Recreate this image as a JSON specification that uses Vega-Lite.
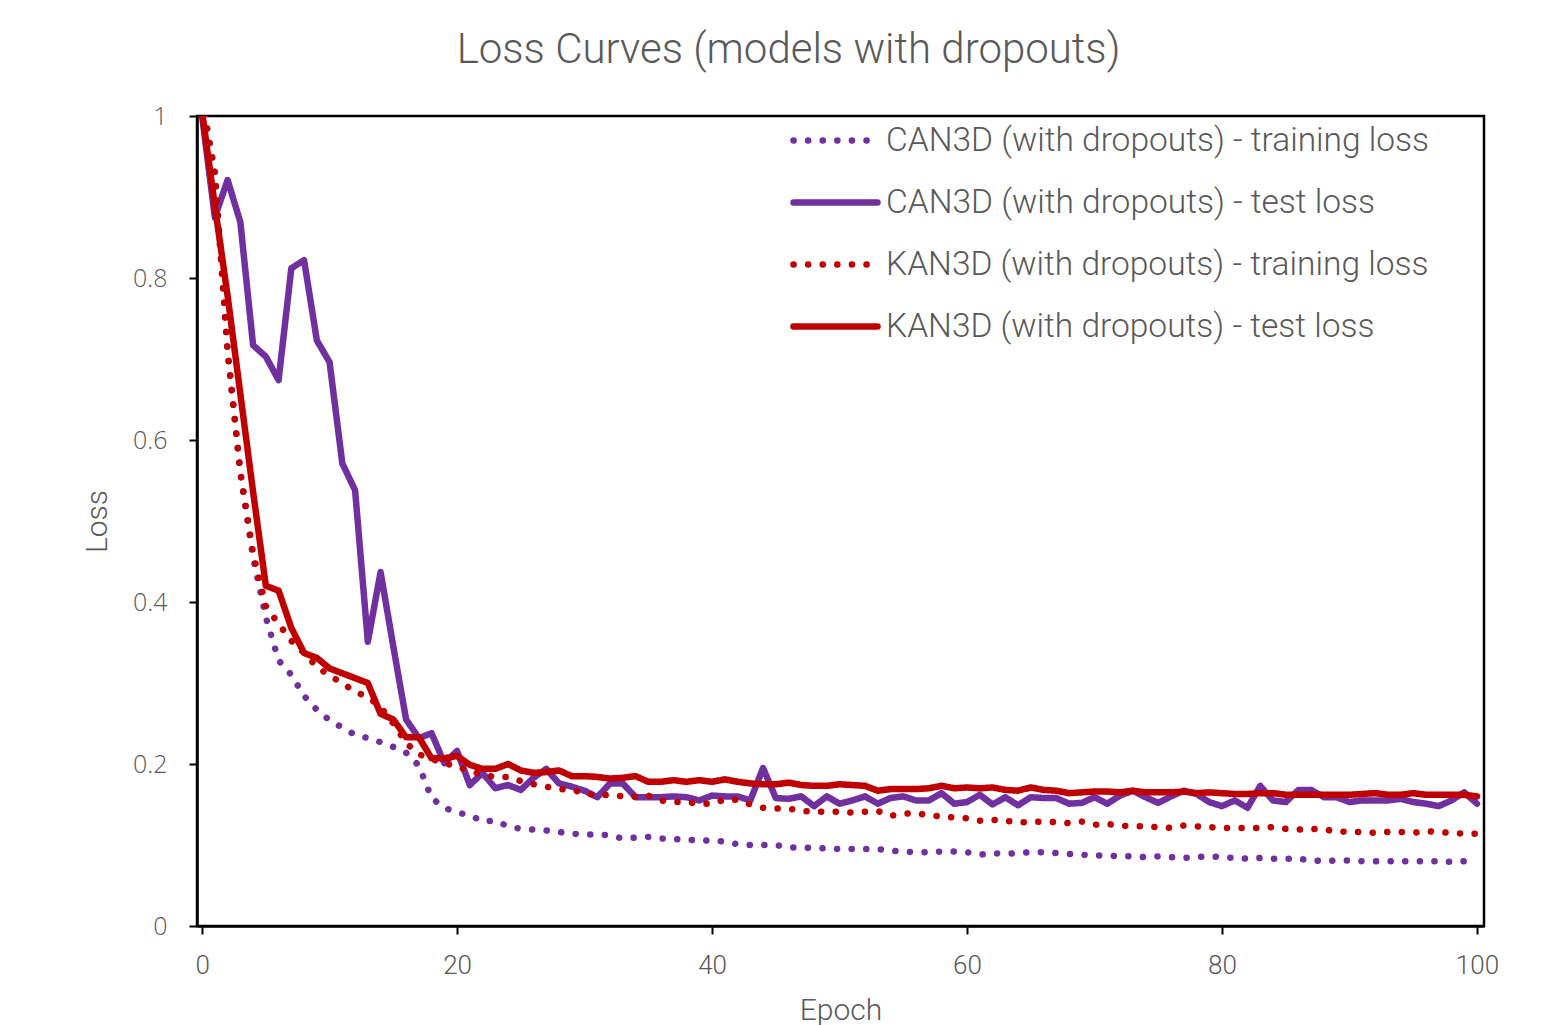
{
 "$schema": "https://vega.github.io/schema/vega-lite/v6.json",
 "width": 1287, "height": 810,
 "autosize": {"type": "none"},
 "padding": {"left": 197, "top": 116, "right": 71, "bottom": 99},
 "background": "white",
 "title": {"text": "Loss Curves (models with dropouts)", "frame": "group", "font": "Roboto", "fontSize": 42, "fontWeight": 300, "color": "#595959", "anchor": "middle", "dx": -52, "offset": 23},
 "config": {
  "view": {"stroke": "black", "strokeWidth": 2.5},
  "axis": {"grid": false, "domainColor": "black", "domainWidth": 2.5, "tickColor": "black", "tickWidth": 2, "tickSize": 8, "labelColor": "#595959", "titleColor": "#595959", "titleFontWeight": 300},
  "legend": {"padding": 0}
 },
 "data": {"values": [
  {"e":0,"a":1.02,"b":1.0,"c":1.02,"d":1.005},
  {"e":1,"a":0.93,"b":0.875,"c":0.93,"d":0.889},
  {"e":2,"a":0.71,"b":0.921,"c":0.71,"d":0.778},
  {"e":3,"a":0.56,"b":0.869,"c":0.56,"d":0.657},
  {"e":4,"a":0.455,"b":0.717,"c":0.46,"d":0.536},
  {"e":5,"a":0.381,"b":0.703,"c":0.395,"d":0.42},
  {"e":6,"a":0.328,"b":0.674,"c":0.373,"d":0.414},
  {"e":7,"a":0.31,"b":0.812,"c":0.352,"d":0.368},
  {"e":8,"a":0.284,"b":0.822,"c":0.337,"d":0.337},
  {"e":9,"a":0.267,"b":0.723,"c":0.32,"d":0.331},
  {"e":10,"a":0.254,"b":0.696,"c":0.309,"d":0.318},
  {"e":11,"a":0.245,"b":0.571,"c":0.3,"d":0.312},
  {"e":12,"a":0.236,"b":0.538,"c":0.289,"d":0.306},
  {"e":13,"a":0.232,"b":0.351,"c":0.283,"d":0.3},
  {"e":14,"a":0.227,"b":0.437,"c":0.27,"d":0.262},
  {"e":15,"a":0.221,"b":0.345,"c":0.25,"d":0.255},
  {"e":16,"a":0.214,"b":0.255,"c":0.226,"d":0.233},
  {"e":17,"a":0.198,"b":0.232,"c":0.212,"d":0.233},
  {"e":18,"a":0.158,"b":0.238,"c":0.206,"d":0.207},
  {"e":19,"a":0.146,"b":0.201,"c":0.201,"d":0.207},
  {"e":20,"a":0.14,"b":0.216,"c":0.197,"d":0.21},
  {"e":21,"a":0.137,"b":0.174,"c":0.191,"d":0.199},
  {"e":22,"a":0.129,"b":0.189,"c":0.187,"d":0.194},
  {"e":23,"a":0.13,"b":0.17,"c":0.184,"d":0.194},
  {"e":24,"a":0.123,"b":0.174,"c":0.184,"d":0.2},
  {"e":25,"a":0.12,"b":0.168,"c":0.179,"d":0.192},
  {"e":26,"a":0.119,"b":0.183,"c":0.175,"d":0.189},
  {"e":27,"a":0.118,"b":0.194,"c":0.172,"d":0.19},
  {"e":28,"a":0.116,"b":0.176,"c":0.169,"d":0.192},
  {"e":29,"a":0.114,"b":0.172,"c":0.168,"d":0.185},
  {"e":30,"a":0.113,"b":0.167,"c":0.164,"d":0.185},
  {"e":31,"a":0.113,"b":0.159,"c":0.161,"d":0.184},
  {"e":32,"a":0.112,"b":0.176,"c":0.162,"d":0.182},
  {"e":33,"a":0.108,"b":0.176,"c":0.16,"d":0.183},
  {"e":34,"a":0.109,"b":0.159,"c":0.16,"d":0.185},
  {"e":35,"a":0.11,"b":0.159,"c":0.161,"d":0.178},
  {"e":36,"a":0.108,"b":0.159,"c":0.155,"d":0.178},
  {"e":37,"a":0.107,"b":0.16,"c":0.153,"d":0.18},
  {"e":38,"a":0.107,"b":0.159,"c":0.153,"d":0.178},
  {"e":39,"a":0.105,"b":0.155,"c":0.151,"d":0.18},
  {"e":40,"a":0.106,"b":0.161,"c":0.151,"d":0.178},
  {"e":41,"a":0.104,"b":0.16,"c":0.156,"d":0.181},
  {"e":42,"a":0.101,"b":0.16,"c":0.156,"d":0.178},
  {"e":43,"a":0.1,"b":0.155,"c":0.15,"d":0.176},
  {"e":44,"a":0.1,"b":0.195,"c":0.146,"d":0.175},
  {"e":45,"a":0.1,"b":0.158,"c":0.145,"d":0.175},
  {"e":46,"a":0.097,"b":0.157,"c":0.145,"d":0.177},
  {"e":47,"a":0.097,"b":0.16,"c":0.142,"d":0.174},
  {"e":48,"a":0.096,"b":0.148,"c":0.141,"d":0.173},
  {"e":49,"a":0.096,"b":0.16,"c":0.141,"d":0.173},
  {"e":50,"a":0.095,"b":0.151,"c":0.141,"d":0.175},
  {"e":51,"a":0.095,"b":0.155,"c":0.14,"d":0.174},
  {"e":52,"a":0.095,"b":0.16,"c":0.141,"d":0.173},
  {"e":53,"a":0.095,"b":0.151,"c":0.142,"d":0.167},
  {"e":54,"a":0.093,"b":0.158,"c":0.136,"d":0.169},
  {"e":55,"a":0.092,"b":0.16,"c":0.139,"d":0.169},
  {"e":56,"a":0.091,"b":0.155,"c":0.139,"d":0.169},
  {"e":57,"a":0.091,"b":0.155,"c":0.137,"d":0.17},
  {"e":58,"a":0.092,"b":0.164,"c":0.135,"d":0.173},
  {"e":59,"a":0.092,"b":0.151,"c":0.134,"d":0.17},
  {"e":60,"a":0.091,"b":0.153,"c":0.133,"d":0.171},
  {"e":61,"a":0.088,"b":0.162,"c":0.13,"d":0.17},
  {"e":62,"a":0.09,"b":0.15,"c":0.131,"d":0.171},
  {"e":63,"a":0.089,"b":0.159,"c":0.13,"d":0.168},
  {"e":64,"a":0.09,"b":0.149,"c":0.128,"d":0.167},
  {"e":65,"a":0.091,"b":0.159,"c":0.128,"d":0.171},
  {"e":66,"a":0.091,"b":0.158,"c":0.129,"d":0.168},
  {"e":67,"a":0.09,"b":0.158,"c":0.128,"d":0.167},
  {"e":68,"a":0.089,"b":0.151,"c":0.127,"d":0.164},
  {"e":69,"a":0.088,"b":0.152,"c":0.129,"d":0.165},
  {"e":70,"a":0.087,"b":0.159,"c":0.125,"d":0.166},
  {"e":71,"a":0.087,"b":0.151,"c":0.126,"d":0.166},
  {"e":72,"a":0.086,"b":0.161,"c":0.124,"d":0.165},
  {"e":73,"a":0.086,"b":0.167,"c":0.123,"d":0.167},
  {"e":74,"a":0.085,"b":0.159,"c":0.123,"d":0.165},
  {"e":75,"a":0.086,"b":0.152,"c":0.122,"d":0.165},
  {"e":76,"a":0.085,"b":0.16,"c":0.121,"d":0.165},
  {"e":77,"a":0.084,"b":0.167,"c":0.124,"d":0.166},
  {"e":78,"a":0.085,"b":0.163,"c":0.123,"d":0.164},
  {"e":79,"a":0.086,"b":0.153,"c":0.122,"d":0.165},
  {"e":80,"a":0.085,"b":0.148,"c":0.121,"d":0.164},
  {"e":81,"a":0.084,"b":0.155,"c":0.121,"d":0.163},
  {"e":82,"a":0.083,"b":0.146,"c":0.121,"d":0.163},
  {"e":83,"a":0.084,"b":0.173,"c":0.121,"d":0.164},
  {"e":84,"a":0.083,"b":0.155,"c":0.122,"d":0.164},
  {"e":85,"a":0.083,"b":0.153,"c":0.12,"d":0.162},
  {"e":86,"a":0.083,"b":0.168,"c":0.119,"d":0.162},
  {"e":87,"a":0.081,"b":0.168,"c":0.12,"d":0.162},
  {"e":88,"a":0.08,"b":0.159,"c":0.119,"d":0.162},
  {"e":89,"a":0.081,"b":0.159,"c":0.117,"d":0.162},
  {"e":90,"a":0.081,"b":0.153,"c":0.116,"d":0.162},
  {"e":91,"a":0.08,"b":0.155,"c":0.116,"d":0.163},
  {"e":92,"a":0.08,"b":0.155,"c":0.115,"d":0.164},
  {"e":93,"a":0.08,"b":0.155,"c":0.116,"d":0.162},
  {"e":94,"a":0.08,"b":0.157,"c":0.116,"d":0.162},
  {"e":95,"a":0.08,"b":0.153,"c":0.115,"d":0.164},
  {"e":96,"a":0.08,"b":0.151,"c":0.117,"d":0.162},
  {"e":97,"a":0.08,"b":0.148,"c":0.116,"d":0.162},
  {"e":98,"a":0.079,"b":0.155,"c":0.115,"d":0.162},
  {"e":99,"a":0.08,"b":0.165,"c":0.114,"d":0.162},
  {"e":100,"a":0.079,"b":0.151,"c":0.114,"d":0.16}
 ]},
 "transform": [{"fold": ["a", "b", "c", "d"], "as": ["series", "loss"]}],
 "mark": {"type": "line", "strokeWidth": 6.5, "strokeCap": "round", "strokeJoin": "round", "clip": true},
 "encoding": {
  "x": {"field": "e", "type": "quantitative", "scale": {"domain": [-0.4, 100.55], "nice": false, "zero": false},
   "axis": {"values": [0, 20, 40, 60, 80, 100], "labelFont": "Roboto", "labelFontWeight": 300, "labelFontSize": 26, "labelPadding": 18, "title": "Epoch", "titleFont": "Roboto", "titleFontSize": 30, "titlePadding": 17}},
  "y": {"field": "loss", "type": "quantitative", "scale": {"domain": [0, 1], "nice": false},
   "axis": {"values": [0, 0.2, 0.4, 0.6, 0.8, 1], "format": "~g", "labelFont": "Open Sans", "labelFontWeight": 300, "labelFontSize": 25, "labelPadding": 22, "title": "Loss", "titleFont": "Roboto", "titleFontSize": 30, "titlePadding": 20}},
  "color": {"field": "series", "type": "nominal", "scale": {"domain": ["a", "b", "c", "d"], "range": ["#7030A0", "#7030A0", "#C00000", "#C00000"]},
   "legend": {"orient": "none", "legendX": 593, "legendY": -21, "title": null, "symbolType": "stroke", "symbolSize": 7056, "symbolStrokeWidth": 6.5, "labelFont": "Roboto", "labelFontWeight": 300, "labelFontSize": 33.5, "labelColor": "#595959", "labelOffset": 5, "labelLimit": 0, "rowPadding": -3.3,
    "labelExpr": "{'a': 'CAN3D (with dropouts) - training loss', 'b': 'CAN3D (with dropouts) - test loss', 'c': 'KAN3D (with dropouts) - training loss', 'd': 'KAN3D (with dropouts) - test loss'}[datum.label]",
    "encode": {"symbols": {"update": {"strokeCap": {"value": "round"}}}}}},
  "strokeDash": {"field": "series", "type": "nominal", "scale": {"domain": ["a", "b", "c", "d"], "range": [[0.1, 14.5], [1, 0], [0.1, 14.5], [1, 0]]}}
 }
}
